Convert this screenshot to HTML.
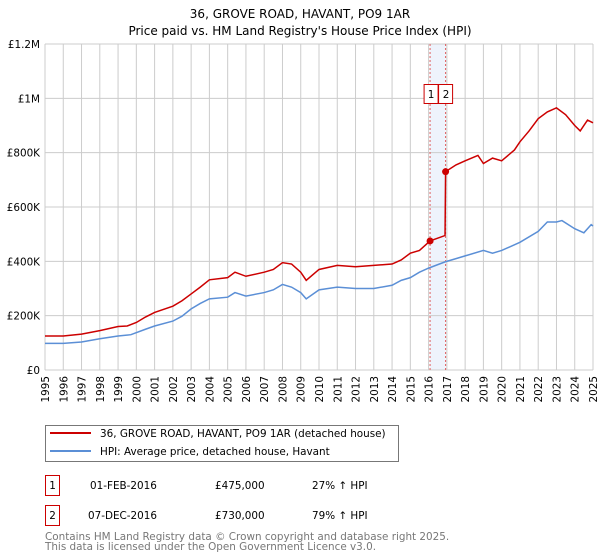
<!DOCTYPE html>
<html><head><meta charset="utf-8"><style>
body{margin:0;background:#fff;font-family:"DejaVu Sans","Liberation Sans",sans-serif;}
#wrap{position:relative;width:600px;height:560px;overflow:hidden}
</style></head><body><div id="wrap">
<svg id="svg" width="600" height="560" xmlns="http://www.w3.org/2000/svg" font-family="DejaVu Sans, Liberation Sans, sans-serif">
<text x="300" y="18" text-anchor="middle" font-size="12">36, GROVE ROAD, HAVANT, PO9 1AR</text>
<text x="300" y="35" text-anchor="middle" font-size="12">Price paid vs. HM Land Registry's House Price Index (HPI)</text>
<g id="grid"></g><g id="marks"></g><g id="axes"></g>
<g>
<rect x="45.5" y="425.5" width="353" height="36" fill="#fff" stroke="#777"/>
<line x1="50" y1="433" x2="91" y2="433" stroke="#cc0000" stroke-width="2"/>
<text x="100" y="437" font-size="10.4">36, GROVE ROAD, HAVANT, PO9 1AR (detached house)</text>
<line x1="50" y1="451" x2="91" y2="451" stroke="#5b8fd6" stroke-width="2"/>
<text x="100" y="455" font-size="10.4">HPI: Average price, detached house, Havant</text>
</g>
<g font-size="10.4">
<rect x="45.5" y="475.5" width="14" height="20" fill="none" stroke="#cc0000"/>
<text x="52.5" y="489" text-anchor="middle">1</text>
<text x="90" y="489">01-FEB-2016</text><text x="215" y="489">£475,000</text><text x="312" y="489">27% ↑ HPI</text>
<rect x="45.5" y="505.5" width="14" height="20" fill="none" stroke="#cc0000"/>
<text x="52.5" y="519" text-anchor="middle">2</text>
<text x="88" y="519">07-DEC-2016</text><text x="215" y="519">£730,000</text><text x="312" y="519">79% ↑ HPI</text>
</g>
<text x="45" y="540" font-size="10.4" fill="#777">Contains HM Land Registry data © Crown copyright and database right 2025.</text>
<text x="45" y="550" font-size="10.4" fill="#777">This data is licensed under the Open Government Licence v3.0.</text>
</svg></div>
<script>
const hpiYears=[1995,1996,1997,1998,1999,1999.7,2000.5,2001,2002,2002.5,2003,2003.5,2004,2005,2005.4,2006,2007,2007.5,2008,2008.5,2009,2009.3,2010,2011,2012,2013,2014,2014.5,2015,2015.5,2016,2016.9,2017.5,2018,2019,2019.5,2020,2021,2022,2022.5,2023,2023.3,2024,2024.5,2024.9,2025];
const hpiValues=[98,98,103,115,125,130,150,162,180,198,225,245,262,268,285,272,285,295,315,305,285,262,295,305,300,300,312,330,340,360,375,398,410,420,440,430,440,470,510,545,545,550,520,505,535,530];
const propYears=[1995,1996,1997,1998,1999,1999.5,2000,2000.5,2001,2002,2002.5,2003,2003.5,2004,2005,2005.4,2006,2007,2007.5,2008,2008.5,2009,2009.3,2010,2011,2012,2013,2014,2014.5,2015,2015.5,2016.08,2016.9,2016.93,2017.5,2018,2018.7,2019,2019.5,2020,2020.7,2021,2021.5,2022,2022.5,2023,2023.5,2024,2024.3,2024.7,2025];
const propValues=[125,125,132,145,160,162,175,195,212,235,255,280,305,332,340,360,345,360,370,395,390,360,330,370,385,380,385,390,405,430,440,475,495,730,755,770,790,760,780,770,810,840,880,925,950,965,940,900,880,920,910];
const saleYears=[2016.08,2016.93];
const saleValues=[475,730];
const saleLabels=["1","2"];
const yTicks=[0,200,400,600,800,1000,1200];
const yTickLabels=["£0","£200K","£400K","£600K","£800K","£1M","£1.2M"];
const xTicks=[1995,1996,1997,1998,1999,2000,2001,2002,2003,2004,2005,2006,2007,2008,2009,2010,2011,2012,2013,2014,2015,2016,2017,2018,2019,2020,2021,2022,2023,2024,2025];

const X0=45,X1=593,Y0=370,Y1=44;
const xs=y=>X0+(y-1995)/30*(X1-X0);
const ys=v=>Y0-v/1200*(Y0-Y1);
const NS="http://www.w3.org/2000/svg";
function mk(tag,attrs,parent){const e=document.createElementNS(NS,tag);for(const k in attrs)e.setAttribute(k,attrs[k]);parent.appendChild(e);return e;}
const grid=document.getElementById('grid'),marks=document.getElementById('marks'),axes=document.getElementById('axes');
const band=mk('rect',{x:xs(saleYears[0]),y:Y1,width:xs(saleYears[1])-xs(saleYears[0]),height:Y0-Y1,fill:'#eef3fc'},grid);


xTicks.forEach(t=>{
  const l=mk('line',{x1:xs(t),x2:xs(t),y1:Y1,y2:Y0,stroke:'#ccc','stroke-width':1},grid);
  
  
  const tx=mk('text',{x:0,y:0,'font-size':10.4,'text-anchor':'end',transform:`translate(${xs(t)+4},376) rotate(-90)`},axes);
  tx.textContent=t;
  
  
});
yTicks.forEach((t,i)=>{
  const l=mk('line',{x1:X0,x2:X1,y1:ys(t),y2:ys(t),stroke:'#ccc','stroke-width':1},grid);
  
  
  const tx=mk('text',{x:40,y:ys(t)+4,'font-size':10.4,'text-anchor':'end'},axes);
  tx.textContent=yTickLabels[i];
  
  
});
saleYears.forEach((s,i)=>{
  const l=mk('line',{x1:xs(s),x2:xs(s),y1:Y1,y2:Y0,stroke:'#e06060','stroke-width':1,'stroke-dasharray':'2,2'},grid);
  
  
});
const hp=mk('polyline',{points:hpiYears.map((y,i)=>xs(y)+','+ys(hpiValues[i])).join(' '),fill:'none',stroke:'#5b8fd6','stroke-width':1.5},marks);


const pp=mk('polyline',{points:propYears.map((y,i)=>xs(y)+','+ys(propValues[i])).join(' '),fill:'none',stroke:'#cc0000','stroke-width':1.5},marks);


saleYears.forEach((s,i)=>{
  const c=mk('circle',{cx:xs(s),cy:ys(saleValues[i]),r:3.5,fill:'#cc0000'},marks);
  
  
  const r=mk('rect',{x:(i===0?xs(saleYears[1])-7-14.5:xs(saleYears[1])-7.5+0.5),y:84.5,width:14,height:19,fill:'#fff',stroke:'#cc0000'},marks);
  
  
  const t=mk('text',{x:(i===0?xs(saleYears[1])-14.5:xs(saleYears[1])+0.5),y:98,'font-size':10.4,'text-anchor':'middle'},marks);
  t.textContent=saleLabels[i];
  
  
});
</script></body></html>
